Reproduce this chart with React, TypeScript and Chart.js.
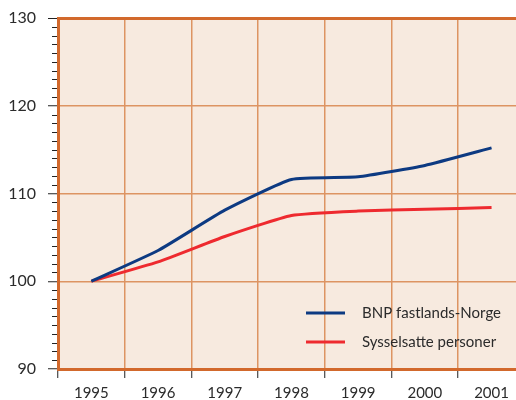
import React, { useEffect, useRef } from "react";
import { Chart, registerables } from "chart.js";

Chart.register(...registerables);

const years = [1995, 1996, 1997, 1998, 1999, 2000, 2001];
const bnp = [100, 103.5, 108.1, 111.6, 111.9, 113.2, 115.2];
const sysselsatte = [100, 102.2, 105.1, 107.5, 108.0, 108.2, 108.4];
const seriesLabels = ["BNP fastlands-Norge", "Sysselsatte personer"];
const yTicks = [90, 100, 110, 120, 130];

const ORANGE = "#d2692c";
const GRID = "#dd9462";
const BG = "#f7eadf";
const TEXT = "#2b2b2b";
const FONT = "Lato";

const bgPlugin = {
  id: "bgPlugin",
  beforeDraw(chart: any) {
    const { ctx, chartArea } = chart;
    ctx.save();
    ctx.fillStyle = BG;
    ctx.fillRect(chartArea.left, chartArea.top, chartArea.right - chartArea.left, chartArea.bottom - chartArea.top);
    ctx.restore();
  },
};

const minorTicksPlugin = {
  id: "minorTicks",
  afterDraw(chart: any) {
    const { ctx, chartArea } = chart;
    const y = chart.scales.y;
    ctx.save();
    ctx.strokeStyle = "#222";
    ctx.lineWidth = 1;
    for (let v = 90; v <= 130; v++) {
      if (v % 10 === 0) continue;
      const py = Math.round(y.getPixelForValue(v)) + 0.5;
      ctx.beginPath();
      ctx.moveTo(chartArea.left - 6, py);
      ctx.lineTo(chartArea.left - 1, py);
      ctx.stroke();
    }
    ctx.restore();
  },
};

const legendPlugin = {
  id: "customLegend",
  afterDatasetsDraw(chart: any) {
    const { ctx, chartArea } = chart;
    ctx.save();
    chart.data.datasets.forEach((ds: any, i: number) => {
      const yy = chartArea.bottom - 56 + i * 29;
      const x1 = chartArea.left + 248;
      ctx.strokeStyle = ds.borderColor;
      ctx.lineWidth = 3;
      ctx.beginPath();
      ctx.moveTo(x1, yy);
      ctx.lineTo(x1 + 39, yy);
      ctx.stroke();
      ctx.fillStyle = TEXT;
      ctx.font = `15px ${FONT}`;
      ctx.textBaseline = "middle";
      ctx.textAlign = "left";
      ctx.fillText(ds.label, x1 + 56, yy);
    });
    ctx.restore();
  },
};

export default function App() {
  const ref = useRef<HTMLCanvasElement>(null);

  useEffect(() => {
    document.body.style.margin = "0";
    const chart = new Chart(ref.current!, {
      type: "line",
      data: {
        datasets: [
          {
            label: seriesLabels[0],
            data: years.map((x, i) => ({ x, y: bnp[i] })),
            borderColor: "#0d3a82",
            borderWidth: 3,
            pointRadius: 0,
            tension: 0.15,
          },
          {
            label: seriesLabels[1],
            data: years.map((x, i) => ({ x, y: sysselsatte[i] })),
            borderColor: "#ee2a2f",
            borderWidth: 3,
            pointRadius: 0,
            tension: 0.15,
          },
        ],
      },
      options: {
        animation: false,
        responsive: false,
        layout: { padding: { top: 18, left: 0, right: 0, bottom: 0 } },
        plugins: { legend: { display: false }, tooltip: { enabled: false } },
        scales: {
          x: {
            type: "linear",
            min: years[0] - 0.5,
            max: years[0] - 0.5 + 458 / 66.7,
            afterBuildTicks: (scale: any) => {
              scale.ticks = years.map((y) => ({ value: y - 0.5 }));
            },
            afterFit: (scale: any) => {
              scale.height = 31;
              scale.paddingLeft = 0;
              scale.paddingRight = 0;
            },
            ticks: {
              autoSkip: false,
              maxRotation: 0,
              labelOffset: 33.35,
              padding: 6,
              color: TEXT,
              font: { family: FONT, size: 15 },
              callback: (_v: any, i: number) => String(years[i]),
            },
            grid: {
              color: (ctx: any) => (ctx.index === 0 ? "rgba(0,0,0,0)" : GRID),
              lineWidth: 1.5,
              tickColor: "#222",
              tickLength: 9,
              tickWidth: 1,
            },
            border: { color: ORANGE, width: 3 },
          },
          y: {
            min: 90,
            max: 130,
            afterBuildTicks: (scale: any) => {
              scale.ticks = yTicks.map((v) => ({ value: v }));
            },
            afterFit: (scale: any) => {
              scale.width = 58;
              scale.paddingTop = 0;
              scale.paddingBottom = 0;
            },
            ticks: {
              padding: 12,
              color: TEXT,
              font: { family: FONT, size: 16 },
            },
            grid: {
              color: (ctx: any) =>
                ctx.tick && ctx.tick.value === 130 ? ORANGE : ctx.tick && ctx.tick.value === 90 ? "rgba(0,0,0,0)" : GRID,
              lineWidth: (ctx: any) => (ctx.tick && ctx.tick.value === 130 ? 3 : 1.5),
              tickColor: "#222",
              tickLength: 10,
              tickWidth: 1,
            },
            border: { color: ORANGE, width: 3 },
          },
        },
      },
      plugins: [bgPlugin, minorTicksPlugin, legendPlugin],
    } as any);
    return () => chart.destroy();
  }, []);

  return (
    <div style={{ position: "fixed", left: 0, top: 0, width: 516, height: 400 }}>
      <canvas ref={ref} width={516} height={400} />
    </div>
  );
}
